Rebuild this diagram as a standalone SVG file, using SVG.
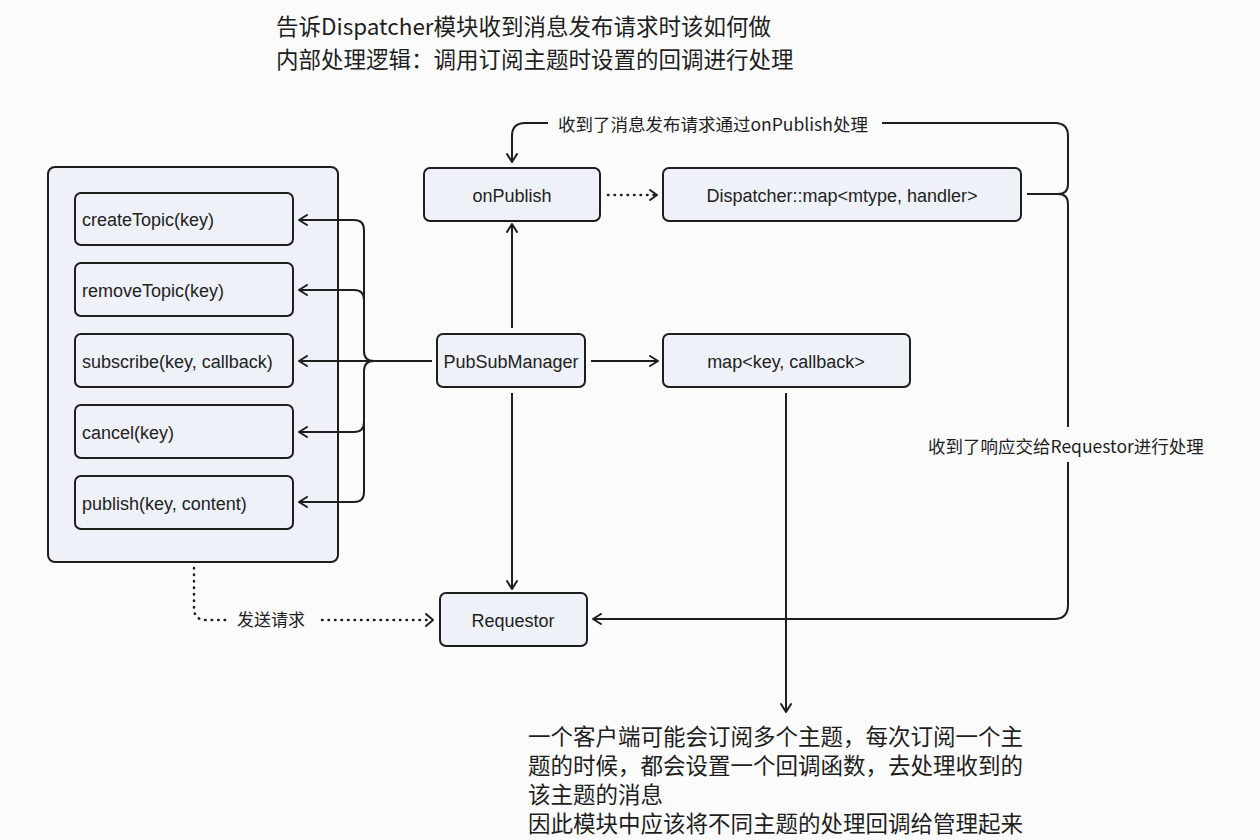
<svg xmlns="http://www.w3.org/2000/svg" width="1260" height="840" viewBox="0 0 1260 840">
<defs>
<marker id="arr" viewBox="0 0 12 12" markerWidth="12" markerHeight="12" refX="10" refY="6" orient="auto" markerUnits="userSpaceOnUse">
<path d="M2,1 L10,6 L2,11" fill="none" stroke="#1e1e1e" stroke-width="2" stroke-linecap="round" stroke-linejoin="round"/>
</marker>
</defs>
<style>
.box{fill:#eef1f8;stroke:#1e1e1e;stroke-width:2}
.t{font-family:"Liberation Sans","Noto Sans CJK SC",sans-serif;fill:#222}
.lbl{font-size:18px}
.c{text-anchor:middle}
.ln{fill:none;stroke:#1e1e1e;stroke-width:2}
.dot{fill:none;stroke:#1e1e1e;stroke-width:2.5;stroke-dasharray:0.5 6;stroke-linecap:round}
.cjk{font-family:"Noto Sans CJK SC","Liberation Sans",sans-serif;fill:#1e1e1e}
</style>
<rect width="1260" height="840" fill="#fbfbfb"/>

<g id="title">
<text class="cjk" x="276" y="35" font-size="22.5">告诉Dispatcher模块收到消息发布请求时该如何做</text>
<text class="cjk" x="276" y="68" font-size="22.5">内部处理逻辑：调用订阅主题时设置的回调进行处理</text>
</g>

<g id="api-group">
<rect class="box" x="48" y="167" width="290" height="395" rx="7"/>
</g>
<g id="createTopic">
<rect class="box" x="75" y="193" width="218" height="52" rx="6"/>
<text class="t lbl" x="82" y="226">createTopic(key)</text>
</g>
<g id="removeTopic">
<rect class="box" x="75" y="263" width="218" height="53" rx="6"/>
<text class="t lbl" x="82" y="297">removeTopic(key)</text>
</g>
<g id="subscribe">
<rect class="box" x="75" y="334" width="218" height="53" rx="6"/>
<text class="t lbl" x="82" y="368">subscribe(key, callback)</text>
</g>
<g id="cancel">
<rect class="box" x="75" y="405" width="218" height="53" rx="6"/>
<text class="t lbl" x="82" y="439">cancel(key)</text>
</g>
<g id="publish">
<rect class="box" x="75" y="476" width="218" height="53" rx="6"/>
<text class="t lbl" x="82" y="510">publish(key, content)</text>
</g>

<g id="onPublish">
<rect class="box" x="424" y="168" width="176" height="53" rx="6"/>
<text class="t lbl c" x="512" y="202">onPublish</text>
</g>
<g id="dispatcherMap">
<rect class="box" x="663" y="168" width="358" height="53" rx="6"/>
<text class="t lbl c" x="842" y="202">Dispatcher::map&lt;mtype, handler&gt;</text>
</g>
<g id="pubSubManager">
<rect class="box" x="437" y="334" width="148" height="53" rx="6"/>
<text class="t lbl c" x="511" y="368">PubSubManager</text>
</g>
<g id="callbackMap">
<rect class="box" x="663" y="334" width="247" height="53" rx="6"/>
<text class="t lbl c" x="786" y="368">map&lt;key, callback&gt;</text>
</g>
<g id="requestor">
<rect class="box" x="440" y="593" width="147" height="53" rx="6"/>
<text class="t lbl c" x="513" y="627">Requestor</text>
</g>

<g id="connectors">
<path class="ln" d="M374 361 Q364 361 364 351 V230 Q364 220 354 220 H299" marker-end="url(#arr)"/>
<path class="ln" d="M364 300 Q364 290 354 290 H299" marker-end="url(#arr)"/>
<path class="ln" d="M432 361 H299" marker-end="url(#arr)"/>
<path class="ln" d="M364 422 Q364 432 354 432 H299" marker-end="url(#arr)"/>
<path class="ln" d="M374 361 Q364 361 364 371 V492 Q364 502 354 502 H299" marker-end="url(#arr)"/>

<path class="ln" d="M512 328 V224" marker-end="url(#arr)"/>
<path class="ln" d="M512 393 V589" marker-end="url(#arr)"/>
<path class="ln" d="M591 361 H658" marker-end="url(#arr)"/>
<path class="ln" d="M786 393 V712" marker-end="url(#arr)"/>

<path class="dot" d="M608 195 H656"/>
<path class="ln" d="M650 190 L657 195 L650 200" stroke-linecap="round" stroke-linejoin="round"/>

<path class="ln" d="M1027 194 H1058 Q1068 194 1068 184 V136 Q1068 123 1055 123 H882"/>
<path class="ln" d="M548 123 H525 Q512 123 512 136 V162" marker-end="url(#arr)"/>
<path class="ln" d="M1058 194 Q1068 194 1068 204 V427"/>
<path class="ln" d="M1068 462 V605 Q1068 619 1054 619 H593" marker-end="url(#arr)"/>

<path class="dot" d="M194 568 V608 Q194 620 206 620 H228"/>
<path class="dot" d="M322 620 H432"/>
<path class="ln" d="M426 614 L433 620 L426 626" stroke-linecap="round" stroke-linejoin="round"/>

<text class="cjk" x="558" y="131" font-size="17.5">收到了消息发布请求通过onPublish处理</text>
<text class="cjk" x="928" y="453" font-size="17.5">收到了响应交给Requestor进行处理</text>
<text class="cjk" x="237" y="626" font-size="17">发送请求</text>
</g>

<g id="note">
<text class="cjk" x="528" y="745" font-size="22.5">一个客户端可能会订阅多个主题，每次订阅一个主</text>
<text class="cjk" x="528" y="774" font-size="22.5">题的时候，都会设置一个回调函数，去处理收到的</text>
<text class="cjk" x="528" y="803" font-size="22.5">该主题的消息</text>
<text class="cjk" x="528" y="832" font-size="22.5">因此模块中应该将不同主题的处理回调给管理起来</text>
</g>
</svg>
